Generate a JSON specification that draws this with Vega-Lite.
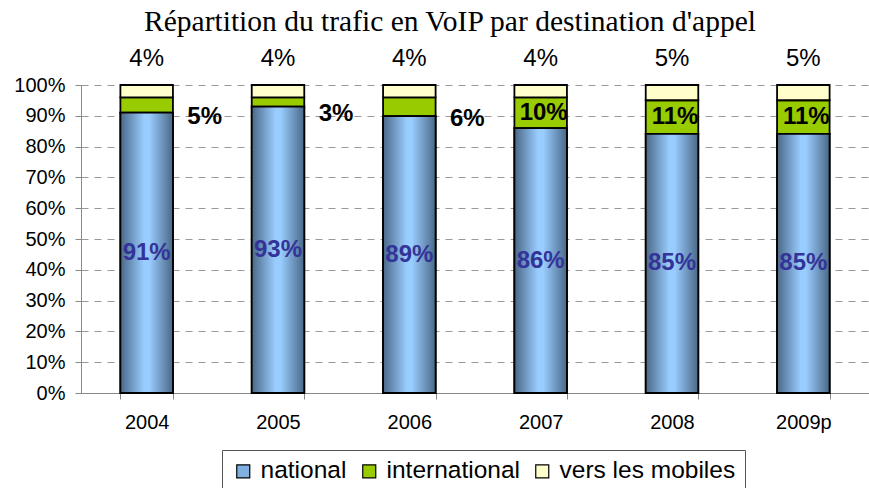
{
  "$schema": "https://vega.github.io/schema/vega-lite/v6.json",
  "width": 788,
  "height": 308,
  "autosize": "none",
  "padding": {"left": 81, "top": 85, "right": 0, "bottom": 95},
  "background": "white",
  "title": {
    "text": "Répartition du trafic en VoIP par destination d'appel",
    "font": "Liberation Serif",
    "fontSize": 29.5,
    "fontWeight": "normal",
    "color": "black",
    "anchor": "middle",
    "dx": -25,
    "offset": 10
  },
  "data": {
    "values": [
      {"year": "2004", "cat": "national", "order": 1, "value": 91},
      {"year": "2004", "cat": "international", "order": 2, "value": 5},
      {"year": "2004", "cat": "vers les mobiles", "order": 3, "value": 4},
      {"year": "2005", "cat": "national", "order": 1, "value": 93},
      {"year": "2005", "cat": "international", "order": 2, "value": 3},
      {"year": "2005", "cat": "vers les mobiles", "order": 3, "value": 4},
      {"year": "2006", "cat": "national", "order": 1, "value": 89},
      {"year": "2006", "cat": "international", "order": 2, "value": 6},
      {"year": "2006", "cat": "vers les mobiles", "order": 3, "value": 4},
      {"year": "2007", "cat": "national", "order": 1, "value": 86},
      {"year": "2007", "cat": "international", "order": 2, "value": 10},
      {"year": "2007", "cat": "vers les mobiles", "order": 3, "value": 4},
      {"year": "2008", "cat": "national", "order": 1, "value": 85},
      {"year": "2008", "cat": "international", "order": 2, "value": 11},
      {"year": "2008", "cat": "vers les mobiles", "order": 3, "value": 5},
      {"year": "2009p", "cat": "national", "order": 1, "value": 85},
      {"year": "2009p", "cat": "international", "order": 2, "value": 11},
      {"year": "2009p", "cat": "vers les mobiles", "order": 3, "value": 5}
    ]
  },
  "transform": [
    {"stack": "value", "groupby": ["year"], "sort": [{"field": "order", "order": "ascending"}], "offset": "normalize", "as": ["y0", "y1"]},
    {"calculate": "(datum.y0 + datum.y1) / 2", "as": "mid"},
    {"calculate": "datum.value + '%'", "as": "label"}
  ],
  "encoding": {
    "x": {
      "field": "year",
      "type": "nominal",
      "sort": null,
      "scale": {"paddingInner": 0.6, "paddingOuter": 0.3},
      "axis": {
        "title": null,
        "labelAngle": 0,
        "labelFont": "Liberation Sans",
        "labelFontSize": 20,
        "labelColor": "black",
        "labelPadding": 13,
        "domainColor": "#888888",
        "tickColor": "#888888",
        "tickBand": "extent",
        "tickSize": 6
      }
    }
  },
  "layer": [
    {
      "mark": {"type": "bar", "stroke": "black", "strokeWidth": 1.8},
      "encoding": {
        "y": {
          "field": "y0",
          "type": "quantitative",
          "scale": {"domain": [0, 1]},
          "axis": {"title": null, "format": ".0%", "values": [0, 0.1, 0.2, 0.3, 0.4, 0.5, 0.6, 0.7, 0.8, 0.9, 1], "labelFont": "Liberation Sans", "labelFontSize": 20, "labelColor": "black", "labelPadding": 10, "domainColor": "#888888", "tickColor": "#888888", "tickSize": 6, "grid": true, "gridColor": "#999999", "gridDash": [7, 6], "gridWidth": 1}
        },
        "y2": {"field": "y1"},
        "color": {
          "field": "cat",
          "type": "nominal",
          "scale": {"domain": ["national", "international", "vers les mobiles"], "range": ["#7fb0e0", "#99cc00", "#ffffcc"]},
          "legend": {
            "title": null,
            "orient": "none",
            "legendX": 141,
            "legendY": 365,
            "direction": "horizontal",
            "labelFont": "Liberation Sans",
            "labelFontSize": 24.5,
            "labelColor": "black",
            "labelLimit": 400,
            "symbolType": "square",
            "symbolSize": 169,
            "symbolStrokeColor": "black",
            "symbolStrokeWidth": 1.2,
            "symbolOpacity": 1,
            "strokeColor": "#555555",
            "padding": 9,
            "columnPadding": 10,
            "labelOffset": 5
          }
        }
      }
    },
    {
      "transform": [{"filter": "datum.cat === 'national'"}],
      "mark": {
        "type": "bar",
        "stroke": "black",
        "strokeWidth": 1.8,
        "fill": {
          "gradient": "linear",
          "x1": 0, "y1": 0, "x2": 1, "y2": 0,
          "stops": [
            {"offset": 0, "color": "#4a6887"},
            {"offset": 0.45, "color": "#99ccff"},
            {"offset": 0.55, "color": "#99ccff"},
            {"offset": 1, "color": "#4a6887"}
          ]
        }
      },
      "encoding": {
        "y": {
          "field": "y0",
          "type": "quantitative",
          "axis": {"title": null, "format": ".0%", "values": [0, 0.1, 0.2, 0.3, 0.4, 0.5, 0.6, 0.7, 0.8, 0.9, 1], "labelFont": "Liberation Sans", "labelFontSize": 20, "labelColor": "black", "labelPadding": 10, "domainColor": "#888888", "tickColor": "#888888", "tickSize": 6, "grid": true, "gridColor": "#999999", "gridDash": [7, 6], "gridWidth": 1}
        },
        "y2": {"field": "y1"}
      }
    },
    {
      "transform": [{"filter": "datum.cat === 'national'"}],
      "mark": {"type": "text", "font": "Liberation Sans", "fontSize": 24, "fontWeight": "bold", "color": "#333399", "baseline": "middle"},
      "encoding": {
        "y": {
          "field": "mid",
          "type": "quantitative",
          "axis": {"title": null, "format": ".0%", "values": [0, 0.1, 0.2, 0.3, 0.4, 0.5, 0.6, 0.7, 0.8, 0.9, 1], "labelFont": "Liberation Sans", "labelFontSize": 20, "labelColor": "black", "labelPadding": 10, "domainColor": "#888888", "tickColor": "#888888", "tickSize": 6, "grid": true, "gridColor": "#999999", "gridDash": [7, 6], "gridWidth": 1}
        },
        "text": {"field": "label"}
      }
    },
    {
      "transform": [{"filter": "datum.cat === 'international' && (datum.year === '2007' || datum.year === '2008' || datum.year === '2009p')"}],
      "mark": {"type": "text", "font": "Liberation Sans", "fontSize": 24, "fontWeight": "bold", "color": "black", "baseline": "middle", "dx": 3},
      "encoding": {
        "y": {
          "field": "mid",
          "type": "quantitative",
          "axis": {"title": null, "format": ".0%", "values": [0, 0.1, 0.2, 0.3, 0.4, 0.5, 0.6, 0.7, 0.8, 0.9, 1], "labelFont": "Liberation Sans", "labelFontSize": 20, "labelColor": "black", "labelPadding": 10, "domainColor": "#888888", "tickColor": "#888888", "tickSize": 6, "grid": true, "gridColor": "#999999", "gridDash": [7, 6], "gridWidth": 1}
        },
        "text": {"field": "label"}
      }
    },
    {
      "transform": [{"filter": "datum.cat === 'international' && (datum.year === '2004' || datum.year === '2005' || datum.year === '2006')"}],
      "mark": {"type": "text", "font": "Liberation Sans", "fontSize": 24, "fontWeight": "bold", "color": "black", "baseline": "middle", "dx": 58, "dy": 12},
      "encoding": {
        "y": {
          "field": "mid",
          "type": "quantitative",
          "axis": {"title": null, "format": ".0%", "values": [0, 0.1, 0.2, 0.3, 0.4, 0.5, 0.6, 0.7, 0.8, 0.9, 1], "labelFont": "Liberation Sans", "labelFontSize": 20, "labelColor": "black", "labelPadding": 10, "domainColor": "#888888", "tickColor": "#888888", "tickSize": 6, "grid": true, "gridColor": "#999999", "gridDash": [7, 6], "gridWidth": 1}
        },
        "text": {"field": "label"}
      }
    },
    {
      "transform": [{"filter": "datum.cat === 'vers les mobiles'"}],
      "mark": {"type": "text", "font": "Liberation Sans", "fontSize": 24, "fontWeight": "normal", "color": "black", "baseline": "middle", "dy": -26},
      "encoding": {
        "y": {
          "field": "y1",
          "type": "quantitative",
          "axis": {"title": null, "format": ".0%", "values": [0, 0.1, 0.2, 0.3, 0.4, 0.5, 0.6, 0.7, 0.8, 0.9, 1], "labelFont": "Liberation Sans", "labelFontSize": 20, "labelColor": "black", "labelPadding": 10, "domainColor": "#888888", "tickColor": "#888888", "tickSize": 6, "grid": true, "gridColor": "#999999", "gridDash": [7, 6], "gridWidth": 1}
        },
        "text": {"field": "label"}
      }
    }
  ],
  "config": {
    "view": {"stroke": null}
  }
}
